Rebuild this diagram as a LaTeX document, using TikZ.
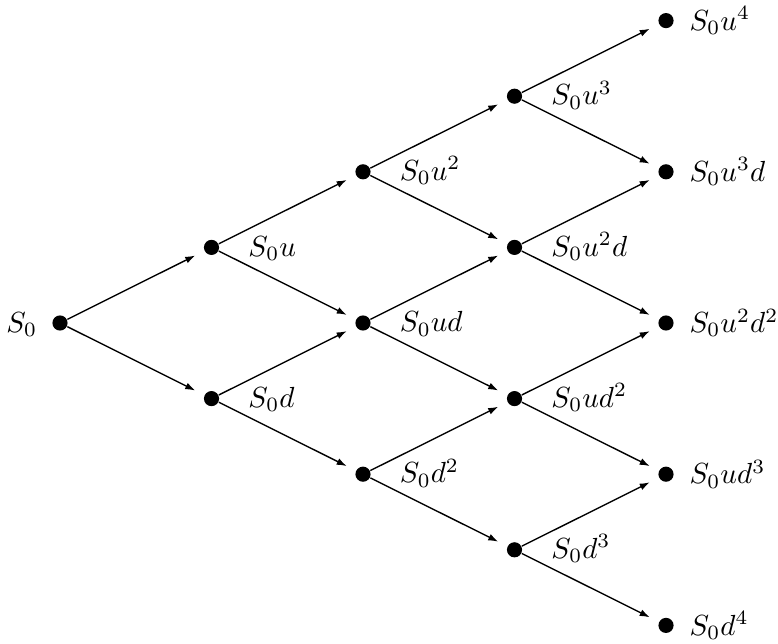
\documentclass[tikz,border=0pt]{standalone}
\usetikzlibrary{arrows.meta}
\begin{document}
\begin{tikzpicture}[x=0.33pt,y=-0.33pt,
  dot/.style={circle,fill=black,inner sep=0pt,minimum size=5pt},
  edge/.style={-{Latex[length=3.3pt,width=2.3pt]},shorten >=3.3pt,line width=0.45pt},
  lab/.style={anchor=base west,inner sep=0pt,scale=0.96}]
\useasboundingbox (0,0) rectangle (778,643);
\foreach \i in {0,...,4}{
  \foreach \j in {0,...,\i}{
    \node[dot] (n\i\j) at ({60+151.5*\i},{323-75.6*(2*\j-\i)}) {};
  }
}
\foreach \i in {0,...,3}{
  \pgfmathtruncatemacro{\k}{\i+1}
  \foreach \j in {0,...,\i}{
    \pgfmathtruncatemacro{\m}{\j+1}
    \draw[edge] (n\i\j) -- (n\k\m);
    \draw[edge] (n\i\j) -- (n\k\j);
  }
}
\node[anchor=base east,inner sep=0pt,scale=0.96] (l00) at ([xshift=-7.3pt,yshift=-3pt]n00.center) {$S_0$};
\tikzset{inl/.style={lab,xshift=12.5pt,yshift=-3pt},outl/.style={lab,xshift=7.9pt,yshift=-3.3pt}}
\node[inl] (l11) at (n11.center) {$S_0u$};
\node[inl] (l10) at (n10.center) {$S_0d$};
\node[inl] (l22) at (n22.center) {$S_0u^2$};
\node[inl] (l21) at (n21.center) {$S_0ud$};
\node[inl] (l20) at (n20.center) {$S_0d^2$};
\node[inl] (l33) at (n33.center) {$S_0u^3$};
\node[inl] (l32) at (n32.center) {$S_0u^2d$};
\node[inl] (l31) at (n31.center) {$S_0ud^2$};
\node[inl] (l30) at (n30.center) {$S_0d^3$};
\node[outl] (l44) at (n44.center) {$S_0u^4$};
\node[outl] (l43) at (n43.center) {$S_0u^3d$};
\node[outl] (l42) at (n42.center) {$S_0u^2d^2$};
\node[outl] (l41) at (n41.center) {$S_0ud^3$};
\node[outl] (l40) at (n40.center) {$S_0d^4$};
\end{tikzpicture}
\end{document}
